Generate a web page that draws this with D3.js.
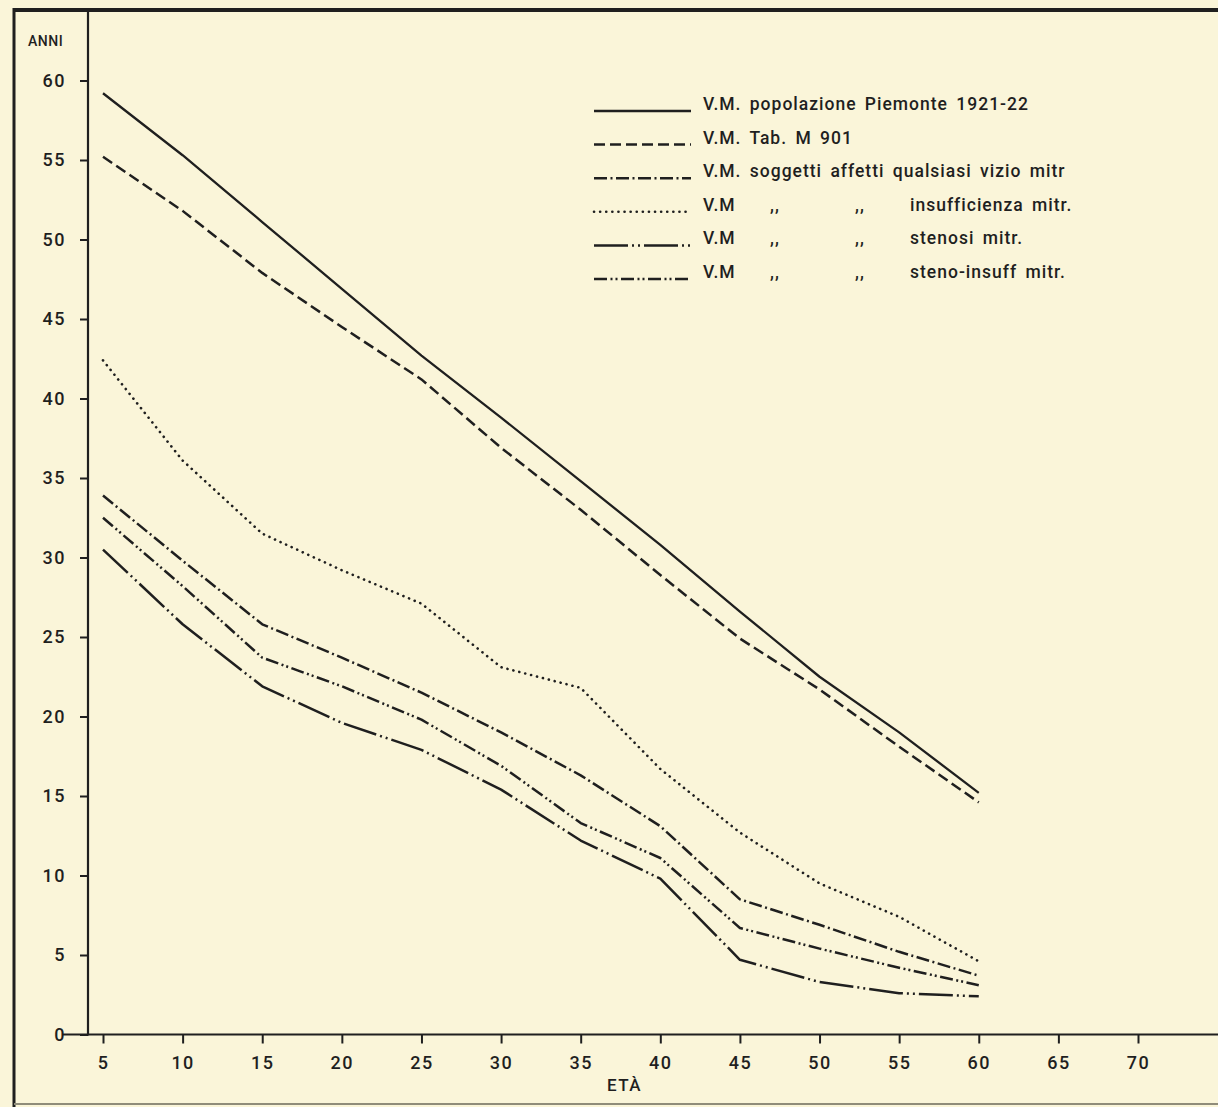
<!DOCTYPE html>
<html>
<head>
<meta charset="utf-8">
<script src="https://cdn.jsdelivr.net/npm/d3@7"></script>
<style>
	body { margin: 0; background: #faf5d9; }
	svg { display: block; }
	text { font-family: Roboto, "DejaVu Sans", sans-serif; font-weight: 500; fill: #1f1f1f; }
</style>
</head>
<body>
<div id="vis-proper"></div>
<script>
// ages on the x axis (ETÀ)
const ages = [5, 10, 15, 20, 25, 30, 35, 40, 45, 50, 55, 60];

// vita media (ANNI)
const popPiemonte = [59.2, 55.3, 51.1, 46.9, 42.7, 38.8, 34.8, 30.8, 26.6, 22.5, 19.0, 15.2];
const tabM901 = [55.2, 51.8, 47.9, 44.5, 41.2, 36.9, 33.0, 28.9, 24.9, 21.7, 18.1, 14.6];
const vizioMitr = [33.9, 29.8, 25.8, 23.7, 21.5, 19.0, 16.3, 13.1, 8.5, 6.9, 5.2, 3.7];
const insuffMitr = [42.4, 36.1, 31.5, 29.2, 27.1, 23.1, 21.8, 16.7, 12.7, 9.5, 7.4, 4.6];
const stenosiMitr = [30.5, 25.8, 21.9, 19.6, 17.9, 15.4, 12.2, 9.8, 4.7, 3.3, 2.6, 2.4];
const stenoInsuffMitr = [32.5, 28.2, 23.7, 21.9, 19.8, 16.9, 13.3, 11.1, 6.7, 5.4, 4.2, 3.1];

const xTicks = [5, 10, 15, 20, 25, 30, 35, 40, 45, 50, 55, 60, 65, 70];
const yTicks = [0, 5, 10, 15, 20, 25, 30, 35, 40, 45, 50, 55, 60];

// legend rows, split into the columns of the plate
const legendLabels = [
	["V.M. popolazione Piemonte 1921-22"],
	["V.M. Tab. M 901"],
	["V.M. soggetti affetti qualsiasi vizio mitr"],
	["V.M", ",,", ",,", "insufficienza mitr."],
	["V.M", ",,", ",,", "stenosi mitr."],
	["V.M", ",,", ",,", "steno-insuff mitr."]
];

const yLabel = "ANNI";
const xLabel = "ETÀ";

const main = () => {
	draw();
};

const draw = () => {
	const W = 1218;
	const H = 1107;
	const ink = "#1f1f1f";

	const svg = d3.select("#vis-proper").append("svg")
		.attr("width", W)
		.attr("height", H);

	svg.append("rect")
		.attr("width", W)
		.attr("height", H)
		.attr("fill", "#faf5d9");

	const x = d3.scaleLinear().domain([5, 70]).range([103, 1138]);
	const y = d3.scaleLinear().domain([0, 60]).range([1034.5, 80.5]);

	// frame of the plate
	svg.append("line")
		.attr("x1", 14).attr("x2", W)
		.attr("y1", 10).attr("y2", 10)
		.attr("stroke", ink).attr("stroke-width", 4);
	svg.append("line")
		.attr("x1", 14).attr("x2", 14)
		.attr("y1", 8).attr("y2", H)
		.attr("stroke", ink).attr("stroke-width", 3);
	svg.append("line")
		.attr("x1", 14).attr("x2", W)
		.attr("y1", 1104).attr("y2", 1104)
		.attr("stroke", "#8f8c7a").attr("stroke-width", 2);

	// x axis
	const xAxis = svg.append("g")
		.attr("transform", `translate(0,${y(0)})`)
		.call(d3.axisBottom(x).tickValues(xTicks).tickSize(9).tickPadding(13));
	xAxis.select(".domain").remove();
	xAxis.selectAll(".tick line").attr("stroke", ink).attr("stroke-width", 2);
	xAxis.selectAll(".tick text")
		.attr("font-size", 18)
		.attr("letter-spacing", 1.5)
		.attr("font-family", null)
		.attr("fill", ink);
	svg.append("line")
		.attr("x1", 62).attr("x2", W)
		.attr("y1", y(0)).attr("y2", y(0))
		.attr("stroke", ink).attr("stroke-width", 2.2);

	// y axis
	const yAxis = svg.append("g")
		.attr("transform", "translate(88,0)")
		.call(d3.axisLeft(y).tickValues(yTicks).tickSize(8).tickPadding(14));
	yAxis.select(".domain").remove();
	yAxis.selectAll(".tick line").attr("stroke", ink).attr("stroke-width", 2);
	yAxis.selectAll(".tick text")
		.attr("font-size", 18)
		.attr("letter-spacing", 1.5)
		.attr("font-family", null)
		.attr("fill", ink);
	svg.append("line")
		.attr("x1", 88).attr("x2", 88)
		.attr("y1", 10).attr("y2", y(0) + 1)
		.attr("stroke", ink).attr("stroke-width", 2.2);

	svg.append("text")
		.attr("x", 28).attr("y", 46)
		.attr("font-size", 14)
		.attr("font-weight", "bold")
		.attr("letter-spacing", 0.5)
		.text(yLabel);
	svg.append("text")
		.attr("x", 607).attr("y", 1091)
		.attr("font-size", 17)
		.attr("letter-spacing", 1.5)
		.text(xLabel);

	// series with their pen styles
	const series = [
		{ values: popPiemonte, dash: null, width: 2.3, cap: "butt" },
		{ values: tabM901, dash: "11,5", width: 2.5, cap: "butt" },
		{ values: vizioMitr, dash: "13,3.5,2,3.5", width: 2.5, cap: "butt" },
		{ values: insuffMitr, dash: "0.1,6", width: 2.6, cap: "round" },
		{ values: stenosiMitr, dash: "34,4,2,4,2,4", width: 2.5, cap: "butt" },
		{ values: stenoInsuffMitr, dash: "13,3.5,2,3,2,3.5", width: 2.5, cap: "butt" }
	];

	const line = d3.line()
		.x((d, i) => x(ages[i]))
		.y(d => y(d));

	svg.append("g").selectAll("path")
		.data(series)
		.join("path")
		.attr("d", d => line(d.values))
		.attr("fill", "none")
		.attr("stroke", ink)
		.attr("stroke-width", d => d.width)
		.attr("stroke-linecap", d => d.cap)
		.attr("stroke-linejoin", "round")
		.attr("stroke-dasharray", d => d.dash);

	// legend
	const rowY = i => 111 + i * 33.6;
	const colX = [703, 770, 855, 910];
	const legend = svg.append("g");
	series.forEach((s, i) => {
		legend.append("line")
			.attr("x1", 594).attr("x2", 691)
			.attr("y1", rowY(i)).attr("y2", rowY(i))
			.attr("stroke", ink)
			.attr("stroke-width", s.width)
			.attr("stroke-linecap", s.cap)
			.attr("stroke-dasharray", s.dash);
		legendLabels[i].forEach((t, j) => {
			legend.append("text")
				.attr("x", colX[j])
				.attr("y", rowY(i) - 1)
				.attr("font-size", 17.5)
				.attr("letter-spacing", 1)
				.attr("word-spacing", 3)
				.text(t);
		});
	});
};

main();
</script>
</body>
</html>
